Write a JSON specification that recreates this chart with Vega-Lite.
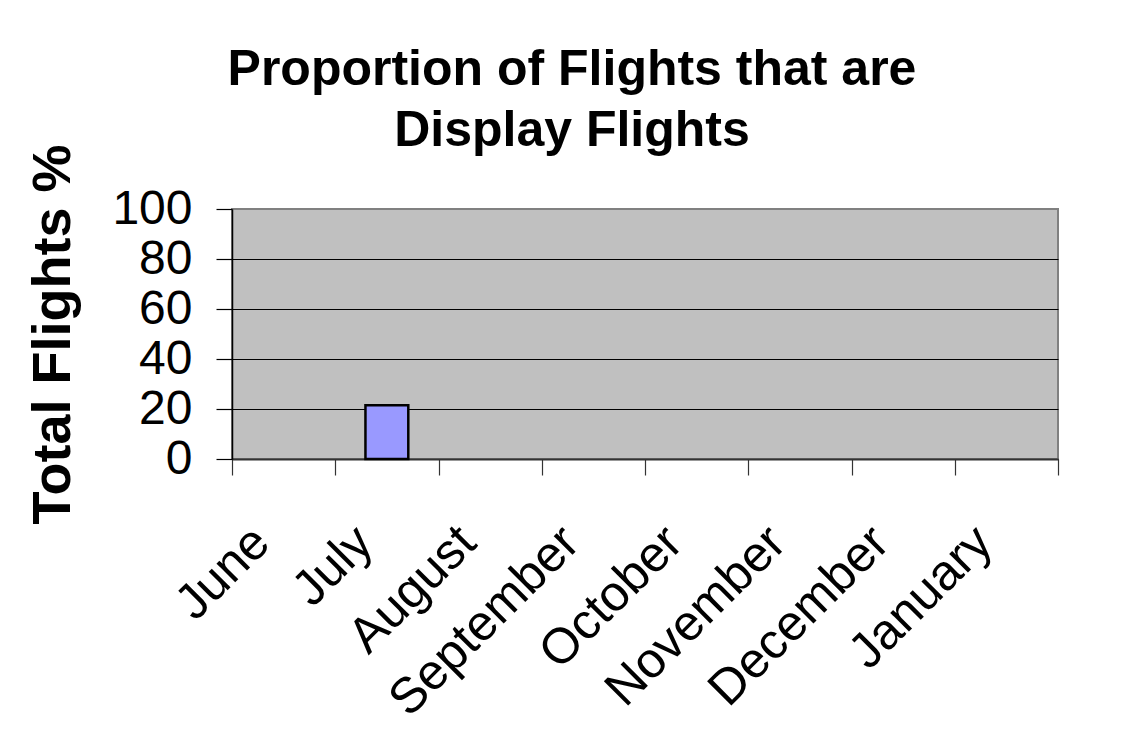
{
  "$schema": "https://vega.github.io/schema/vega-lite/v6.json",
  "width": 826,
  "height": 250,
  "autosize": {"type": "none"},
  "padding": {"left": 232, "top": 209, "right": 65, "bottom": 273},
  "background": "white",
  "title": {
    "text": ["Proportion of Flights that are", "Display Flights"],
    "font": "Liberation Sans",
    "fontSize": 50,
    "fontWeight": "bold",
    "color": "black",
    "anchor": "middle",
    "frame": "group",
    "dx": -73,
    "offset": -12,
    "lineHeight": 61
  },
  "data": {
    "values": [
      {"month": "June", "pct": null},
      {"month": "July", "pct": 21.5},
      {"month": "August", "pct": null},
      {"month": "September", "pct": null},
      {"month": "October", "pct": null},
      {"month": "November", "pct": null},
      {"month": "December", "pct": null},
      {"month": "January", "pct": null}
    ]
  },
  "mark": {"type": "bar", "width": {"band": 0.415}, "fill": "#9999ff", "stroke": "black", "strokeWidth": 2.5},
  "encoding": {
    "x": {
      "field": "month",
      "type": "nominal",
      "sort": null,
      "scale": {"domain": ["June", "July", "August", "September", "October", "November", "December", "January"], "paddingInner": 0, "paddingOuter": 0},
      "axis": {
        "title": null,
        "tickBand": "extent",
        "ticks": true,
        "tickSize": 16,
        "tickColor": "#333333",
        "tickWidth": 1.2,
        "domainColor": "#333333",
        "domainWidth": 2,
        "grid": false,
        "labelAngle": -45,
        "labelAlign": "right",
        "labelBaseline": "alphabetic",
        "labelPadding": 70,
        "labelOffset": -12,
        "labelFont": "Liberation Sans",
        "labelFontSize": 50,
        "labelColor": "black",
        "labelLimit": 0,
        "labelOverlap": false,
        "labelBound": false,
        "labelFlush": false
      }
    },
    "y": {
      "field": "pct",
      "type": "quantitative",
      "scale": {"domain": [0, 100], "nice": false},
      "axis": {
        "values": [0, 20, 40, 60, 80, 100],
        "grid": true,
        "gridColor": {"condition": {"test": "datum.value === 100", "value": "#808080"}, "value": "black"},
        "gridWidth": 1.2,
        "tickSize": 16,
        "tickColor": "black",
        "tickWidth": 1.2,
        "domainColor": "black",
        "domainWidth": 1.5,
        "labelFont": "Liberation Sans",
        "labelFontSize": 48,
        "labelColor": "black",
        "labelPadding": 24,
        "labelFlush": false,
        "labelBound": false,
        "labelOverlap": false,
        "title": "Total Flights %",
        "titleFont": "Liberation Sans",
        "titleFontSize": 54,
        "titleFontWeight": "bold",
        "titleColor": "black",
        "titleAngle": -90,
        "titleX": -163,
        "titleY": 125,
        "titleAlign": "center",
        "titleBaseline": "alphabetic"
      }
    }
  },
  "config": {
    "view": {"fill": "#c0c0c0", "stroke": "#808080", "strokeWidth": 2}
  }
}
